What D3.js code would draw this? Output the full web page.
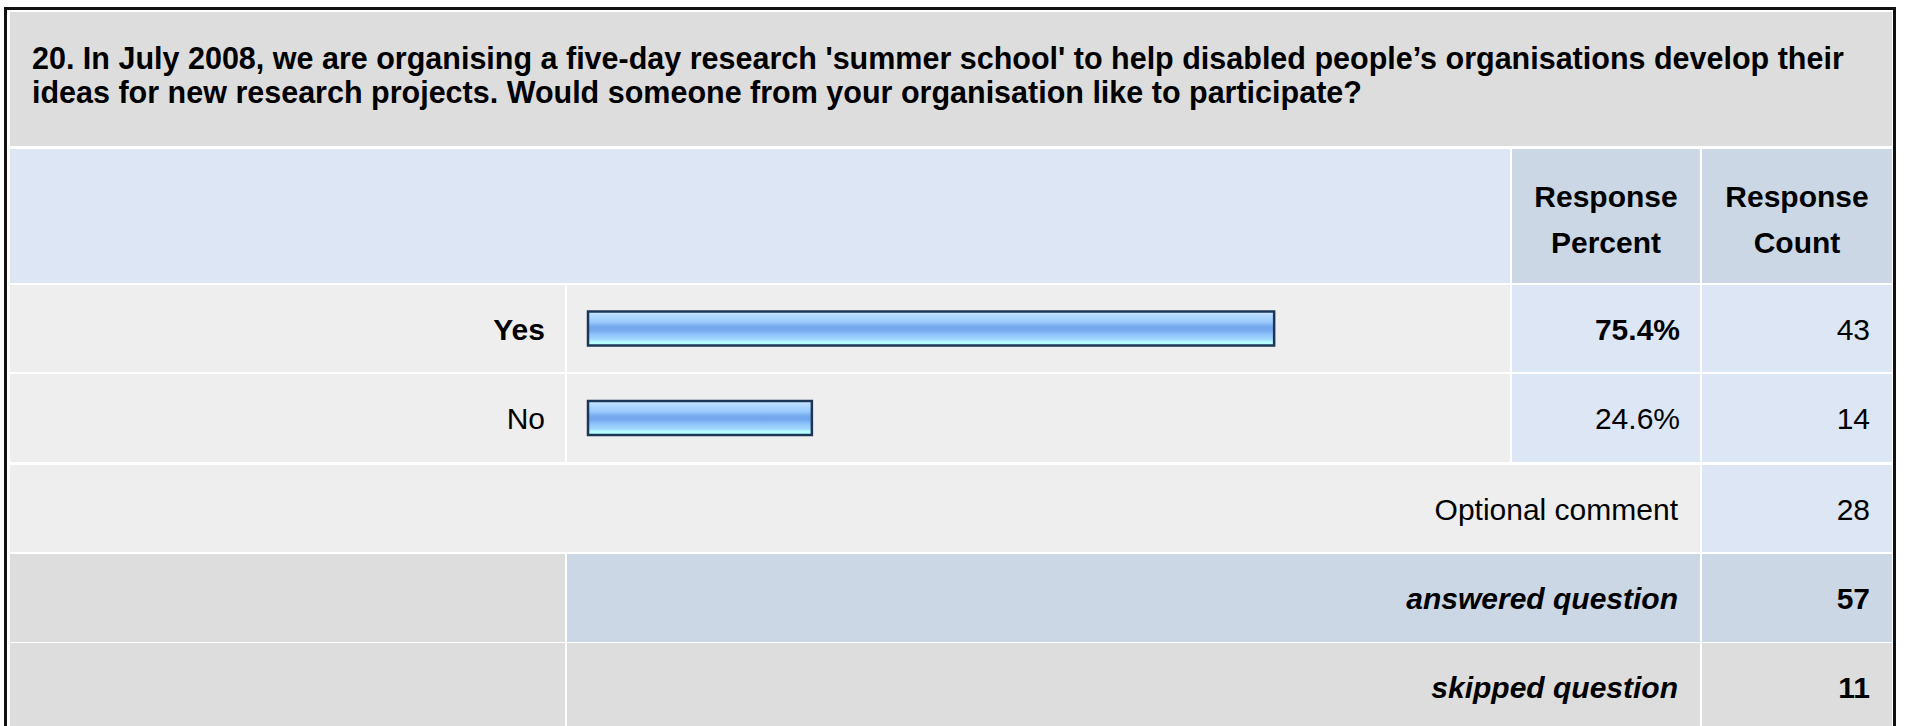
<!DOCTYPE html>
<html>
<head>
<meta charset="utf-8">
<script src="https://cdn.jsdelivr.net/npm/d3@7"></script>
<style>
  html, body { margin: 0; padding: 0; background: #ffffff; }
  svg { display: block; }
  text { font-family: "Liberation Sans", Arial, sans-serif; fill: #000; }
</style>
</head>
<body>
<svg id="chart" width="1907" height="726"></svg>
<script>
// ---- data ----
const titleLines = [
  "20. In July 2008, we are organising a five-day research 'summer school' to help disabled people\u2019s organisations develop their",
  "ideas for new research projects. Would someone from your organisation like to participate?"
];
const headerLabels = [["Response", "Percent"], ["Response", "Count"]];
const answerChoices = ["Yes", "No"];
const responsePercent = [75.4, 24.6];
const responseCount = [43, 14];
const summaryLabels = ["Optional comment", "answered question", "skipped question"];
const summaryCounts = [28, 57, 11];

// ---- layout ----
const svg = d3.select("#chart");
const colors = {
  title: "#dddddd", lightBlue: "#dce6f4", midBlue: "#cbd7e5",
  rowGray: "#eeeeee", darkGray: "#dddddd"
};
const xL = 10, xLabelEnd = 565, xBarStart = 567, xPctStart = 1512, xPctEnd = 1700,
      xCntStart = 1702, xCntEnd = 1892;

const rows = {
  title: [12, 146], header: [149, 283],
  ans: [[285, 372], [374, 462]],
  optional: [465, 552], answered: [554, 642], skipped: [643, 740]
};

// gradient for bars
const defs = svg.append("defs");
const grad = defs.append("linearGradient").attr("id", "barGrad")
  .attr("x1", 0).attr("y1", 0).attr("x2", 0).attr("y2", 1);
[["0%", "#d2eaff"], ["12%", "#b2d9ff"], ["30%", "#9ccbfc"], ["45%", "#74a9ee"],
 ["55%", "#74a9ee"], ["68%", "#8ec4fb"], ["82%", "#a4d8ff"], ["90%", "#b6ffff"], ["100%", "#b6ffff"]]
  .forEach(([o, c]) => grad.append("stop").attr("offset", o).attr("stop-color", c));

// outer border
svg.append("rect").attr("x", 5.5).attr("y", 8.5).attr("width", 1889).attr("height", 760)
  .attr("fill", "#ffffff").attr("stroke", "#111").attr("stroke-width", 3);

function cell(x0, x1, y0, y1, fill) {
  svg.append("rect").attr("x", x0).attr("y", y0).attr("width", x1 - x0).attr("height", y1 - y0)
    .attr("fill", fill);
}

// title
cell(xL, xCntEnd, rows.title[0], rows.title[1], colors.title);
svg.append("g").selectAll("text").data(titleLines).join("text")
  .attr("x", 32).attr("y", (d, i) => 69 + i * 34)
  .attr("font-size", 30.5).attr("font-weight", "bold").text(d => d);

// header row
cell(xL, 1510, rows.header[0], rows.header[1], colors.lightBlue);
cell(xPctStart, xPctEnd, rows.header[0], rows.header[1], colors.midBlue);
cell(xCntStart, xCntEnd, rows.header[0], rows.header[1], colors.midBlue);
const headerCenters = [(xPctStart + xPctEnd) / 2, (xCntStart + xCntEnd) / 2];
headerLabels.forEach((lines, j) => {
  svg.append("g").selectAll("text").data(lines).join("text")
    .attr("x", headerCenters[j]).attr("y", (d, i) => 207 + i * 46)
    .attr("text-anchor", "middle").attr("font-size", 30).attr("font-weight", "bold").text(d => d);
});

// answer rows
const x = d3.scaleLinear().domain([0, 100]).range([588, 1498]);
answerChoices.forEach((a, i) => {
  const [y0, y1] = rows.ans[i];
  cell(xL, xLabelEnd, y0, y1, colors.rowGray);
  cell(xBarStart, 1510, y0, y1, colors.rowGray);
  cell(xPctStart, xPctEnd, y0, y1, colors.lightBlue);
  cell(xCntStart, xCntEnd, y0, y1, colors.lightBlue);
});
const rowMid = i => (rows.ans[i][0] + rows.ans[i][1]) / 2;
const bold = i => responsePercent[i] === d3.max(responsePercent);

svg.append("g").selectAll("text").data(answerChoices).join("text")
  .attr("x", 545).attr("y", (d, i) => rowMid(i) + 11)
  .attr("text-anchor", "end").attr("font-size", 30)
  .attr("font-weight", (d, i) => bold(i) ? "bold" : "normal").text(d => d);

const barH = 34;
svg.append("g").selectAll("rect").data(responsePercent).join("rect")
  .attr("x", x(0)).attr("y", (d, i) => rowMid(i) - barH / 2)
  .attr("width", d => x(d) - x(0)).attr("height", barH)
  .attr("fill", "url(#barGrad)").attr("stroke", "#1d3658").attr("stroke-width", 2.5);

svg.append("g").selectAll("text").data(responsePercent).join("text")
  .attr("x", 1680).attr("y", (d, i) => rowMid(i) + 11)
  .attr("text-anchor", "end").attr("font-size", 30)
  .attr("font-weight", (d, i) => bold(i) ? "bold" : "normal").text(d => d.toFixed(1) + "%");

svg.append("g").selectAll("text").data(responseCount).join("text")
  .attr("x", 1870).attr("y", (d, i) => rowMid(i) + 11)
  .attr("text-anchor", "end").attr("font-size", 30).text(d => d);

// summary rows
cell(xL, xPctEnd, rows.optional[0], rows.optional[1], colors.rowGray);
cell(xCntStart, xCntEnd, rows.optional[0], rows.optional[1], colors.lightBlue);
cell(xL, xLabelEnd, rows.answered[0], rows.answered[1], colors.darkGray);
cell(xBarStart, xPctEnd, rows.answered[0], rows.answered[1], colors.midBlue);
cell(xCntStart, xCntEnd, rows.answered[0], rows.answered[1], colors.midBlue);
cell(xL, xLabelEnd, rows.skipped[0], rows.skipped[1], colors.darkGray);
cell(xBarStart, xPctEnd, rows.skipped[0], rows.skipped[1], colors.darkGray);
cell(xCntStart, xCntEnd, rows.skipped[0], rows.skipped[1], colors.darkGray);

const sumBaselines = [520, 609, 698];
svg.append("g").selectAll("text").data(summaryLabels).join("text")
  .attr("x", 1678).attr("y", (d, i) => sumBaselines[i])
  .attr("text-anchor", "end").attr("font-size", 30)
  .attr("font-weight", (d, i) => i === 0 ? "normal" : "bold")
  .attr("font-style", (d, i) => i === 0 ? "normal" : "italic").text(d => d);
svg.append("g").selectAll("text").data(summaryCounts).join("text")
  .attr("x", 1870).attr("y", (d, i) => sumBaselines[i])
  .attr("text-anchor", "end").attr("font-size", 30)
  .attr("font-weight", (d, i) => i === 0 ? "normal" : "bold").text(d => d);
</script>
</body>
</html>
